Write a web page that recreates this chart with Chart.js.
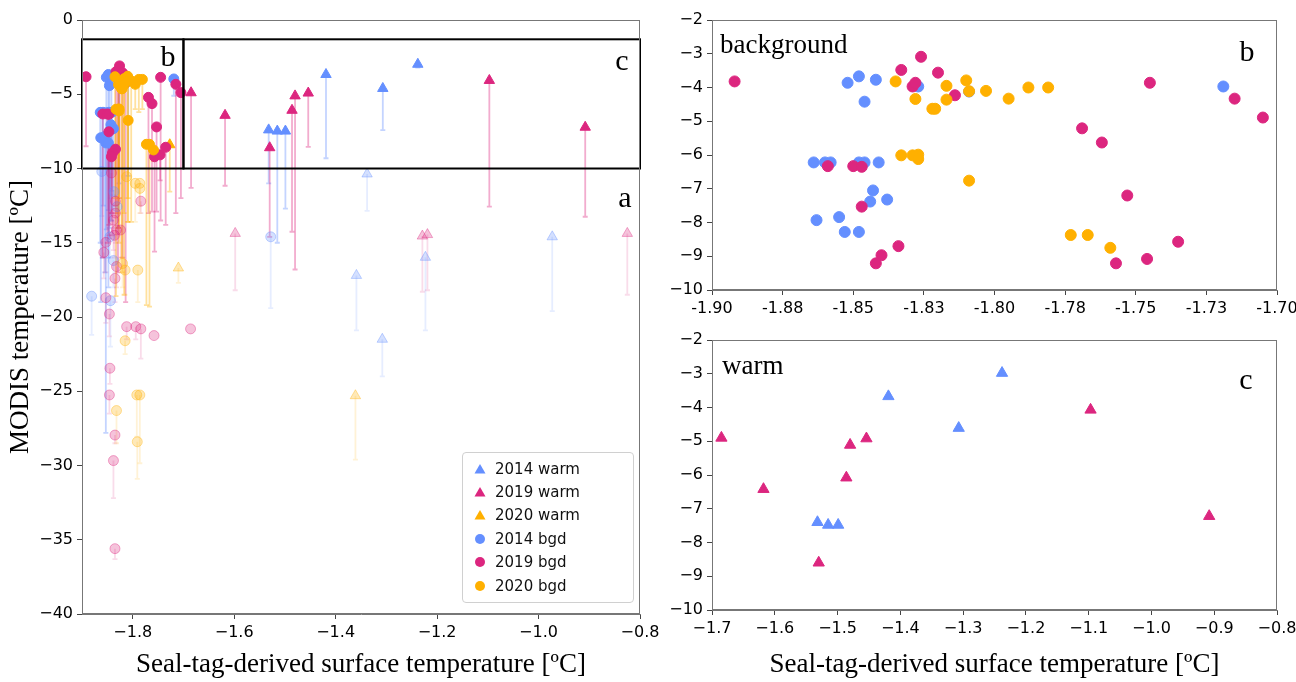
<!DOCTYPE html>
<html>
<head>
<meta charset="utf-8">
<script src="https://cdn.jsdelivr.net/npm/chart.js@4"></script>
<style>
  body { margin: 0; background: #fff; }
  #page { position: relative; width: 1296px; height: 682px; overflow: hidden; }
  #page canvas { position: absolute; left: 0; top: 0; }
  #legend {
    position: absolute; left: 462px; top: 452px; width: 172px; height: 151px;
    border: 1px solid #d0d0d0; border-radius: 4px; background: rgba(255,255,255,0.85);
    font: 15px 'DejaVu Sans', sans-serif; color: #111; box-sizing: border-box; padding-top: 4px;
  }
  #legend .row { height: 23.4px; display: flex; align-items: center; }
  #legend svg { margin: 0 9px 0 11px; }
</style>
</head>
<body>
<div id="page">
  <canvas id="chartA" width="1296" height="682"></canvas>
  <canvas id="chartB" width="1296" height="682"></canvas>
  <canvas id="chartC" width="1296" height="682"></canvas>
  <div id="legend"></div>
</div>
<script>
// MODIS vs seal-tag surface temperature, three panels (a: all, b: background zoom, c: warm zoom)

// ---- data: x = seal-tag temp, y = MODIS temp, lo = bottom of the error bar ----
const warm14X  = [-1.532, -1.515, -1.499, -1.419, -1.307, -1.238, -1.338, -1.223, -1.359, -1.308, -0.973];
const warm14Y  = [-7.40, -7.48, -7.48, -3.67, -4.61, -2.98, -10.37, -15.98, -17.2, -21.5, -14.6];
const warm14Lo = [-11.0, -15.0, -12.7, -9.31, -7.41, -3.2, -12.86, -20.9, -20.9, -24.0, -19.6];

const warm19X  = [-1.685, -1.618, -1.530, -1.486, -1.480, -1.454, -1.097, -0.908, -1.598, -1.229, -1.219, -0.825];
const warm19Y  = [-4.90, -6.42, -8.60, -6.08, -5.11, -4.92, -4.07, -7.22, -14.37, -14.55, -14.45, -14.37];
const warm19Lo = [-11.3, -11.16, -14.6, -14.26, -16.8, -8.55, -12.57, -13.25, -18.2, -18.3, -18.2, -18.5];

const warm20X  = [-1.727, -1.71, -1.361];
const warm20Y  = [-8.4, -16.7, -25.3];
const warm20Lo = [-11.56, -17.7, -29.6];

const bgd14X  = [-1.852, -1.848, -1.842, -1.846, -1.827, -1.809, -1.719, -1.864, -1.860, -1.858, -1.848, -1.846, -1.841, -1.843,
                 -1.844, -1.838, -1.863, -1.855, -1.853, -1.848, -1.861, -1.837, -1.831, -1.845, -1.838, -1.881, -1.844, -1.528];
const bgd14Y  = [-3.86, -3.67, -3.77, -4.42, -3.97, -4.12, -3.97, -6.22, -6.22, -6.22, -6.22, -6.22, -6.22, -7.05,
                 -7.38, -7.32, -7.93, -7.84, -8.28, -8.28, -10.2, -11.56, -12.57, -14.6, -16.2, -18.6, -18.9, -14.6];
const bgd14Lo = [-14.1, -12.8, -13.5, -14.7, -11.0, -10.5, -5.1, -15.0, -16.0, -12.5, -18.0, -14.0, -11.5, -13.5,
                 -12.0, -11.8, -19.0, -17.0, -27.8, -16.0, -13.2, -13.0, -14.0, -16.0, -18.0, -21.2, -22.0, -19.4];

const bgd19X  = [-1.892, -1.833, -1.826, -1.820, -1.829, -1.828, -1.814, -1.745, -1.715, -1.705, -1.769, -1.762, -1.859, -1.850,
                 -1.847, -1.847, -1.753, -1.735, -1.834, -1.840, -1.842, -1.757, -1.746,
                 -1.842, -1.834, -1.834, -1.838, -1.836, -1.832, -1.824, -1.853, -1.857, -1.832, -1.835, -1.853, -1.846,
                 -1.784, -1.812, -1.794, -1.758, -1.686, -1.845, -1.846, -1.835, -1.838, -1.835, -1.784];
const bgd19Y  = [-3.82, -3.48, -3.09, -3.56, -3.97, -3.86, -4.23, -3.86, -4.33, -4.89, -5.21, -5.63, -6.33, -6.33,
                 -6.35, -7.53, -7.20, -8.57, -8.70, -8.97, -9.21, -9.21, -9.08,
                 -10.3, -12.2, -13.0, -13.47, -14.5, -14.14, -14.14, -14.97, -15.65, -16.6, -17.4, -18.7, -19.8,
                 -20.8, -20.65, -20.65, -21.25, -20.8, -23.45, -25.25, -27.95, -29.67, -35.6, -12.2];
const bgd19Lo = [-8.5, -13.0, -12.0, -16.0, -17.0, -14.0, -19.0, -13.5, -13.0, -12.0, -13.0, -12.9, -16.0, -15.0,
                 -14.5, -13.8, -12.9, -13.8, -12.5, -14.5, -13.0, -15.6, -10.8,
                 -13.0, -14.0, -15.0, -15.5, -16.0, -17.0, -16.0, -17.0, -17.4, -18.0, -19.0, -20.4, -21.3,
                 -22.8, -21.5, -21.5, -21.25, -20.8, -24.5, -26.5, -28.5, -32.2, -36.3, -13.0];

const bgd20X  = [-1.835, -1.828, -1.817, -1.817, -1.822, -1.821, -1.810, -1.809, -1.803, -1.795, -1.788, -1.781, -1.833, -1.829,
                 -1.827, -1.827, -1.809, -1.773, -1.767, -1.759,
                 -1.812, -1.795, -1.786, -1.786, -1.820, -1.815, -1.790, -1.815, -1.832, -1.792, -1.786, -1.791];
const bgd20Y  = [-3.82, -4.34, -3.95, -4.36, -4.63, -4.63, -3.79, -4.11, -4.10, -4.33, -4.00, -4.00, -6.01, -6.01,
                 -5.99, -6.12, -6.76, -8.37, -8.37, -8.75,
                 -10.55, -11.0, -11.0, -11.34, -16.4, -16.84, -16.84, -21.6, -26.3, -25.25, -25.25, -28.4];
const bgd20Lo = [-12.0, -14.0, -18.5, -13.0, -16.0, -17.0, -13.6, -12.0, -13.6, -6.0, -6.2, -6.0, -18.6, -13.0,
                 -12.0, -15.0, -13.6, -19.2, -19.3, -9.5,
                 -12.0, -13.6, -12.5, -13.0, -18.0, -18.5, -19.0, -22.5, -28.5, -28.06, -29.85, -30.9];

// ---- ticks ----
const aXTicks  = [-1.8, -1.6, -1.4, -1.2, -1.0, -0.8];
const aXLabels = ['−1.8', '−1.6', '−1.4', '−1.2', '−1.0', '−0.8'];
const aYTicks  = [-40, -35, -30, -25, -20, -15, -10, -5, 0];
const aYLabels = ['−40', '−35', '−30', '−25', '−20', '−15', '−10', '−5', '0'];
const bXTicks  = [-1.9, -1.875, -1.85, -1.825, -1.8, -1.775, -1.75, -1.725, -1.7];
const bXLabels = ['-1.90', '-1.88', '-1.85', '-1.83', '-1.80', '-1.78', '-1.75', '-1.73', '-1.70'];
const cXTicks  = [-1.7, -1.6, -1.5, -1.4, -1.3, -1.2, -1.1, -1.0, -0.9, -0.8];
const cXLabels = ['−1.7', '−1.6', '−1.5', '−1.4', '−1.3', '−1.2', '−1.1', '−1.0', '−0.9', '−0.8'];
const zYTicks  = [-10, -9, -8, -7, -6, -5, -4, -3, -2];
const zYLabels = ['−10', '−9', '−8', '−7', '−6', '−5', '−4', '−3', '−2'];

// zoom windows drawn as boxes in panel a: [xmin, xmax, ymin, ymax]
const boxB = [-1.9, -1.7, -10, -1.3];
const boxC = [-1.7, -0.8, -10, -1.3];

const BLUE = '#648FFF';
const PINK = '#DC267F';
const GOLD = '#FFB000';
const SERIF = "'Liberation Serif', 'Times New Roman', serif";
const SANS = "'DejaVu Sans', sans-serif";

function rgba(hex, a) {
  const n = parseInt(hex.slice(1), 16);
  return `rgba(${n >> 16}, ${(n >> 8) & 255}, ${n & 255}, ${a})`;
}

function pts(xs, ys, los) {
  return xs.map((x, i) => ({ x: x, y: ys[i], lo: los[i] }));
}

const faded = c => c.raw && c.raw.y < -10;

function axis(min, max, tickVals, tickLabels, size, vertical, title) {
  return {
    type: 'linear',
    min: min,
    max: max,
    afterBuildTicks: s => { s.ticks = tickVals.map(v => ({ value: v })); },
    afterFit: s => {
      if (vertical) s.width = size; else s.height = size;
      s.paddingLeft = s.paddingRight = s.paddingTop = s.paddingBottom = 0;
    },
    ticks: {
      autoSkip: false,
      maxRotation: 0,
      padding: 4,
      color: '#000',
      font: { family: SANS, size: 16 },
      callback: (v, i) => tickLabels[i],
    },
    grid: { drawOnChartArea: false, tickLength: 5, color: '#444' },
    border: { color: '#777', width: 1 },
    title: title ? {
      display: true,
      text: title,
      color: '#000',
      font: { family: SERIF, size: 27, lineHeight: 1.2 },
      padding: vertical ? { top: 5, bottom: 0 } : { top: 0, bottom: 1 },
    } : { display: false },
  };
}

// top + right spines
const framePlugin = {
  id: 'frame',
  afterDraw(chart) {
    const { ctx, chartArea: a } = chart;
    ctx.save();
    ctx.strokeStyle = '#777';
    ctx.lineWidth = 1;
    ctx.strokeRect(a.left + 0.5, a.top + 0.5, a.right - a.left - 1, a.bottom - a.top - 1);
    ctx.restore();
  }
};

// lower error bars with caps, drawn under the markers
const errorBars = {
  id: 'errorBars',
  beforeDatasetsDraw(chart) {
    const { ctx, scales: { x, y } } = chart;
    ctx.save();
    chart.data.datasets.forEach(ds => {
      ds.data.forEach(p => {
        if (p.lo >= p.y) return;
        const px = x.getPixelForValue(p.x);
        const top = y.getPixelForValue(p.y);
        const bot = y.getPixelForValue(p.lo);
        ctx.strokeStyle = rgba(ds.barColor, p.y < -10 ? 0.16 : 0.38);
        ctx.lineWidth = 1.8;
        ctx.beginPath();
        ctx.moveTo(px, top);
        ctx.lineTo(px, bot);
        ctx.moveTo(px - 2.5, bot);
        ctx.lineTo(px + 2.5, bot);
        ctx.stroke();
      });
    });
    ctx.restore();
  }
};

const boxesPlugin = {
  id: 'boxes',
  afterDatasetsDraw(chart) {
    const { ctx, scales: { x, y } } = chart;
    ctx.save();
    ctx.strokeStyle = '#000';
    ctx.lineWidth = 2;
    [boxB, boxC].forEach(b => {
      const x0 = x.getPixelForValue(b[0]), x1 = x.getPixelForValue(b[1]);
      const y0 = y.getPixelForValue(b[3]), y1 = y.getPixelForValue(b[2]);
      ctx.strokeRect(x0, y0, x1 - x0, y1 - y0);
    });
    ctx.restore();
  }
};

function textPlugin(items) {
  return {
    id: 'panelText',
    afterDraw(chart) {
      const ctx = chart.ctx;
      ctx.save();
      ctx.fillStyle = '#000';
      items.forEach(t => {
        ctx.font = `${t.size}px ${SERIF}`;
        ctx.textAlign = t.align || 'center';
        ctx.textBaseline = 'alphabetic';
        ctx.fillText(t.text, t.x, t.y);
      });
      ctx.restore();
    }
  };
}

function series(label, data, color, style, order, radius) {
  return {
    label: label,
    data: data,
    order: order,
    barColor: color,
    pointStyle: style,
    pointRadius: radius,
    pointBackgroundColor: c => faded(c) ? rgba(color, 0.28) : color,
    pointBorderColor: c => faded(c) ? rgba(color, 0.38) : color,
    pointBorderWidth: 1,
    showLine: false,
  };
}

const common = {
  responsive: false,
  animation: false,
  events: [],
  plugins: { legend: { display: false }, tooltip: { enabled: false } },
};

// ---- panel a ----
new Chart(document.getElementById('chartA'), {
  type: 'scatter',
  data: {
    datasets: [
      series('2014 warm', pts(warm14X, warm14Y, warm14Lo), BLUE, 'triangle', 6, 6),
      series('2019 warm', pts(warm19X, warm19Y, warm19Lo), PINK, 'triangle', 5, 6),
      series('2020 warm', pts(warm20X, warm20Y, warm20Lo), GOLD, 'triangle', 4, 6),
      series('2014 bgd', pts(bgd14X, bgd14Y, bgd14Lo), BLUE, 'circle', 3, 5),
      series('2019 bgd', pts(bgd19X, bgd19Y, bgd19Lo), PINK, 'circle', 2, 5),
      series('2020 bgd', pts(bgd20X, bgd20Y, bgd20Lo), GOLD, 'circle', 1, 5),
    ]
  },
  options: {
    ...common,
    layout: { padding: { left: 0, top: 20, right: 656, bottom: 0 } },
    scales: {
      x: axis(-1.9, -0.8, aXTicks, aXLabels, 68, false, 'Seal-tag-derived surface temperature [ºC]'),
      y: axis(-40, 0, aYTicks, aYLabels, 82, true, 'MODIS temperature [ºC]'),
    }
  },
  plugins: [errorBars, boxesPlugin, framePlugin, textPlugin([
    { text: 'a', x: 625, y: 207, size: 30 },
    { text: 'b', x: 168, y: 66, size: 30 },
    { text: 'c', x: 622, y: 70, size: 30 },
  ])]
});

// ---- panel b: background points inside the b window ----
const inB = p => p.y >= -10 && p.x >= -1.9 && p.x <= -1.7;
new Chart(document.getElementById('chartB'), {
  type: 'scatter',
  data: {
    datasets: [
      series('2014 bgd', pts(bgd14X, bgd14Y, bgd14Lo).filter(inB), BLUE, 'circle', 3, 5.5),
      series('2019 bgd', pts(bgd19X, bgd19Y, bgd19Lo).filter(inB), PINK, 'circle', 2, 5.5),
      series('2020 bgd', pts(bgd20X, bgd20Y, bgd20Lo).filter(inB), GOLD, 'circle', 1, 5.5),
    ]
  },
  options: {
    ...common,
    layout: { padding: { left: 650, top: 20, right: 19, bottom: 362 } },
    scales: {
      x: axis(-1.9, -1.7, bXTicks, bXLabels, 30, false, null),
      y: axis(-10, -2, zYTicks, zYLabels, 62, true, null),
    }
  },
  plugins: [framePlugin, textPlugin([
    { text: 'background', x: 720, y: 53, size: 27, align: 'left' },
    { text: 'b', x: 1247, y: 61, size: 30 },
  ])]
});

// ---- panel c: warm points inside the c window ----
const inC = p => p.y >= -10 && p.x >= -1.7 && p.x <= -0.8;
new Chart(document.getElementById('chartC'), {
  type: 'scatter',
  data: {
    datasets: [
      series('2014 warm', pts(warm14X, warm14Y, warm14Lo).filter(inC), BLUE, 'triangle', 3, 6.5),
      series('2019 warm', pts(warm19X, warm19Y, warm19Lo).filter(inC), PINK, 'triangle', 2, 6.5),
      series('2020 warm', pts(warm20X, warm20Y, warm20Lo).filter(inC), GOLD, 'triangle', 1, 6.5),
    ]
  },
  options: {
    ...common,
    layout: { padding: { left: 650, top: 340, right: 19, bottom: 0 } },
    scales: {
      x: axis(-1.7, -0.8, cXTicks, cXLabels, 72, false, 'Seal-tag-derived surface temperature [ºC]'),
      y: axis(-10, -2, zYTicks, zYLabels, 62, true, null),
    }
  },
  plugins: [framePlugin, textPlugin([
    { text: 'warm', x: 722, y: 374, size: 27, align: 'left' },
    { text: 'c', x: 1246, y: 389, size: 30 },
  ])]
});

// ---- legend for panel a ----
const legendItems = [
  ['2014 warm', BLUE, 'triangle'], ['2019 warm', PINK, 'triangle'], ['2020 warm', GOLD, 'triangle'],
  ['2014 bgd', BLUE, 'circle'], ['2019 bgd', PINK, 'circle'], ['2020 bgd', GOLD, 'circle'],
];
document.getElementById('legend').innerHTML = legendItems.map(([label, color, shape]) => {
  const mark = shape === 'triangle'
    ? `<polygon points="6,1 11.5,10.5 0.5,10.5" fill="${color}"/>`
    : `<circle cx="6" cy="6" r="5" fill="${color}"/>`;
  return `<div class="row"><svg width="12" height="12">${mark}</svg>${label}</div>`;
}).join('');
</script>
</body>
</html>
